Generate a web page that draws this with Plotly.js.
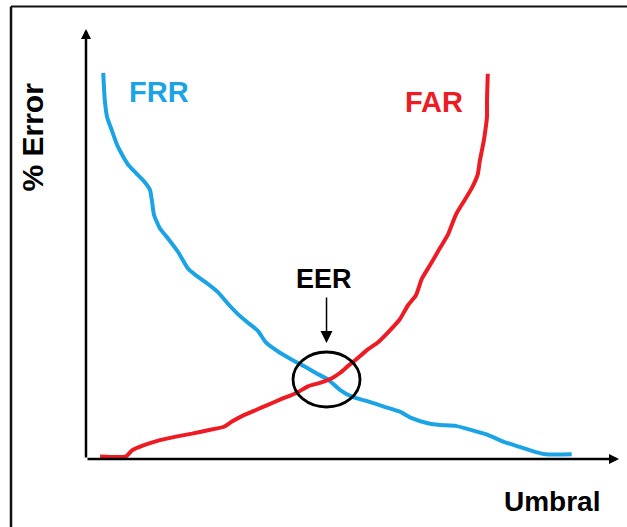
<!DOCTYPE html>
<html>
<head>
<meta charset="utf-8">
<script src="https://cdn.plot.ly/plotly-3.0.1.min.js"></script>
<style>
  html, body { margin: 0; padding: 0; background: #ffffff; }
  #chart { width: 627px; height: 527px; }
</style>
</head>
<body>
<div id="chart"></div>
<script>
const frrThreshold = [3.23, 3.53, 3.98, 4.88, 5.78, 6.75, 7.88, 9.38, 10.88, 12.0, 12.38, 12.75, 13.88, 15.38, 17.25, 19.13, 20.63, 22.88, 24.75, 26.63, 28.5, 30.38, 32.25, 33.75, 36.38, 38.63, 40.88, 43.13, 45.38, 47.63, 49.88, 52.88, 55.88, 58.88, 61.13, 64.13, 66.38, 69.38, 72.38, 75.38, 78.38, 81.38, 84.38, 86.25, 91.13];
const frrError     = [89.8, 83.4, 79.4, 76.3, 73.2, 70.8, 68.5, 66.5, 64.6, 62.6, 59.9, 56.8, 53.6, 51.3, 48.2, 44.3, 42.7, 40.7, 38.8, 36.1, 33.7, 31.7, 29.8, 27.1, 24.7, 23.1, 21.6, 20.0, 18.5, 16.1, 14.5, 13.4, 12.2, 11.0, 9.5, 8.3, 7.9, 7.7, 6.7, 5.6, 4.0, 2.8, 1.6, 1.1, 1.1];

const farThreshold = [2.63, 7.5, 8.63, 10.88, 13.88, 16.88, 19.88, 22.88, 25.88, 27.38, 29.63, 31.88, 34.13, 36.38, 39.38, 41.63, 43.88, 46.13, 47.63, 49.13, 50.63, 52.88, 54.75, 56.63, 58.88, 60.38, 61.88, 63.0, 64.5, 66.38, 67.88, 69.38, 70.88, 72.38, 73.5, 73.88, 74.63, 75.0, 75.23, 75.23, 75.38];
const farError     = [0.6, 0.6, 2.0, 3.2, 4.4, 5.2, 5.9, 6.7, 7.5, 8.7, 10.2, 11.4, 12.6, 13.8, 15.3, 16.9, 17.7, 18.8, 20.0, 21.6, 23.1, 25.5, 27.1, 29.4, 32.5, 35.7, 38.0, 41.9, 45.0, 49.0, 52.1, 56.8, 59.9, 63.0, 66.2, 69.3, 74.0, 77.1, 79.5, 83.4, 89.6];

// Equal error rate region (threshold / error span of the marked ellipse)
const eerThreshold = [38.84, 51.41];
const eerError = [12.09, 24.88];

const labels = { frr: "FRR", far: "FAR", eer: "EER", xTitle: "Umbral", yTitle: "% Error" };

const BLUE = "#1BA3E6";
const RED = "#ED1C24";
const FONT = "Liberation Sans, Arial, sans-serif";

const traces = [
  { x: frrThreshold, y: frrError, type: "scatter", mode: "lines", name: labels.frr,
    line: { color: BLUE, width: 4, shape: "spline", smoothing: 0.5 }, hoverinfo: "skip" },
  { x: farThreshold, y: farError, type: "scatter", mode: "lines", name: labels.far,
    line: { color: RED, width: 4, shape: "spline", smoothing: 0.5 }, hoverinfo: "skip" }
];

const eerX = (eerThreshold[0] + eerThreshold[1]) / 2;

const layout = {
  width: 627, height: 527,
  margin: { l: 86, r: 8, t: 29, b: 68, pad: 0 },
  paper_bgcolor: "#ffffff", plot_bgcolor: "#ffffff",
  showlegend: false, hovermode: false,
  xaxis: { range: [0, 100], showgrid: false, zeroline: false, showline: false, showticklabels: false, ticks: "", fixedrange: true },
  yaxis: { range: [0, 100], showgrid: false, zeroline: false, showline: false, showticklabels: false, ticks: "", fixedrange: true },
  shapes: [
    // frame of the figure (left and top edges)
    { type: "line", xref: "paper", yref: "paper", x0: -0.1407, x1: -0.1407, y0: 1.0523, y1: -0.2, line: { color: "#111111", width: 2.5 } },
    { type: "line", xref: "paper", yref: "paper", x0: -0.1407, x1: 1.1, y0: 1.0523, y1: 1.0523, line: { color: "#111111", width: 2 } },
    // EER ellipse
    { type: "circle", xref: "x", yref: "y", x0: eerThreshold[0], x1: eerThreshold[1], y0: eerError[0], y1: eerError[1],
      line: { color: "#000000", width: 2.8 }, fillcolor: "rgba(0,0,0,0)" }
  ],
  annotations: [
    // x axis arrow
    { x: 100, y: 0, ax: 0, ay: 0, xref: "x", yref: "y", axref: "x", ayref: "y", text: "", showarrow: true,
      arrowhead: 2, arrowsize: 0.8, arrowwidth: 2.5, arrowcolor: "#000000", standoff: 0, startstandoff: 0 },
    // y axis arrow
    { x: 0, y: 100, ax: 0, ay: 0, xref: "x", yref: "y", axref: "x", ayref: "y", text: "", showarrow: true,
      arrowhead: 2, arrowsize: 0.8, arrowwidth: 2.5, arrowcolor: "#000000", standoff: 0, startstandoff: 0 },
    // EER pointer arrow
    { x: eerX, y: 27.0, ax: eerX, ay: 37.9, xref: "x", yref: "y", axref: "x", ayref: "y", text: "", showarrow: true,
      arrowhead: 2, arrowsize: 1.6, arrowwidth: 1.5, arrowcolor: "#000000", standoff: 0, startstandoff: 0 },
    { x: 13.70, y: 85.35, xref: "x", yref: "y", text: "<b>" + labels.frr + "</b>", showarrow: false,
      font: { family: FONT, size: 29, color: BLUE }, xanchor: "center", yanchor: "middle" },
    { x: 65.29, y: 82.91, xref: "x", yref: "y", text: "<b>" + labels.far + "</b>", showarrow: false,
      font: { family: FONT, size: 29, color: RED }, xanchor: "center", yanchor: "middle" },
    { x: 44.65, y: 41.86, xref: "x", yref: "y", text: "<b>" + labels.eer + "</b>", showarrow: false,
      font: { family: FONT, size: 27, color: "#000000" }, xanchor: "center", yanchor: "middle" },
    { x: 0.8743, y: -0.0977, xref: "paper", yref: "paper", text: "<b>" + labels.xTitle + "</b>", showarrow: false,
      font: { family: FONT, size: 28, color: "#000000" }, xanchor: "center", yanchor: "middle" },
    { x: -0.1004, y: 0.7488, xref: "paper", yref: "paper", text: "<b>" + labels.yTitle + "</b>", showarrow: false,
      textangle: -90, font: { family: FONT, size: 30, color: "#000000" }, xanchor: "center", yanchor: "middle" }
  ]
};

Plotly.newPlot("chart", traces, layout, { displayModeBar: false, staticPlot: true });
</script>
</body>
</html>
